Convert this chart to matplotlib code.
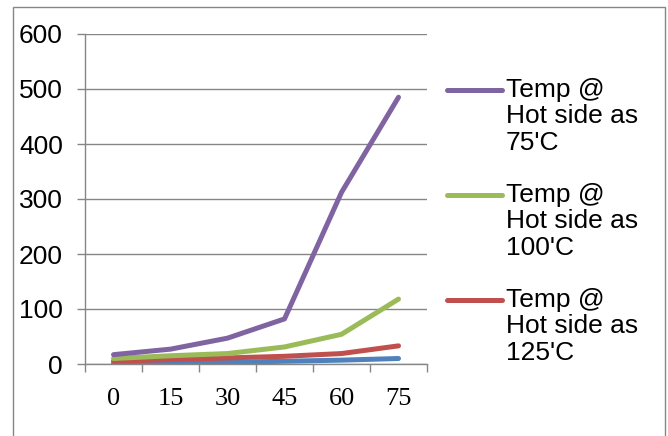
import numpy as np
import matplotlib.pyplot as plt
from matplotlib.lines import Line2D
from matplotlib.patches import Rectangle

# data
angles = ["0", "15", "30", "45", "60", "75"]
temp_blue = [1, 2, 3, 5, 7, 10]
temp_125 = [5, 8, 11, 14, 19, 33]
temp_100 = [10, 15, 19, 31, 54, 118]
temp_75 = [17, 27, 47, 82, 312, 485]
yticks = [0, 100, 200, 300, 400, 500, 600]

series_labels = ["Temp @\nHot side as\n75'C", "Temp @\nHot side as\n100'C", "Temp @\nHot side as\n125'C"]
legend_colors = ["#8064A2", "#9BBB59", "#C0504D"]

W, H = 668, 436
fig = plt.figure(figsize=(W/100, H/100), dpi=100)
ax = fig.add_axes([85/W, 1-364/H, (427-85)/W, (364-34)/H])

gray = "#868686"
x = np.arange(len(angles))
lw = 3.6
ax.plot(x, temp_blue, color="#4F81BD", lw=lw, solid_capstyle="round", solid_joinstyle="round")
ax.plot(x, temp_125, color="#C0504D", lw=lw, solid_capstyle="round", solid_joinstyle="round")
ax.plot(x, temp_100, color="#9BBB59", lw=lw, solid_capstyle="round", solid_joinstyle="round")
ax.plot(x, temp_75, color="#8064A2", lw=lw, solid_capstyle="round", solid_joinstyle="round")

ax.set_xlim(-0.5, len(angles)-0.5)
ax.set_ylim(0, 600)
ax.set_yticks(yticks)
ax.set_yticklabels([str(v) for v in yticks], family="Liberation Sans", fontsize=19)
ax.yaxis.grid(True, color=gray, lw=1.0)
ax.set_axisbelow(True)
ax.tick_params(axis="y", length=6, width=1.0, color=gray, pad=10)

# category boundaries get tick marks, centres get labels
ax.set_xticks(np.arange(len(angles)+1) - 0.5)
ax.set_xticklabels([])
ax.set_xticks(x, minor=True)
ax.set_xticklabels(angles, minor=True, family="Liberation Serif", fontsize=19)
ax.tick_params(axis="x", which="major", length=6, width=1.0, color=gray)
ax.tick_params(axis="x", which="minor", length=0, pad=17.5)

for s in ["top", "right"]:
    ax.spines[s].set_visible(False)
for s in ["left", "bottom"]:
    ax.spines[s].set_color(gray)
    ax.spines[s].set_linewidth(1.0)

# legend drawn by hand so the handle sits on the first text line
for i, (lab, col) in enumerate(zip(series_labels, legend_colors)):
    yc = 90 + 105*i
    fig.add_artist(Line2D([447/W, 502/W], [1-yc/H, 1-yc/H], color=col, lw=3.6,
                          solid_capstyle="round"))
    fig.text(506/W, 1-(yc-12)/H, lab, va="top", ha="left", family="Liberation Sans",
             fontsize=19, linespacing=1.13)

# outer chart border
fig.add_artist(Rectangle((13/W, -0.2), (665-13)/W, 1.2-7/H, fill=False,
                         edgecolor=gray, lw=1.0, transform=fig.transFigure))

fig.savefig("out.png", dpi=100)
